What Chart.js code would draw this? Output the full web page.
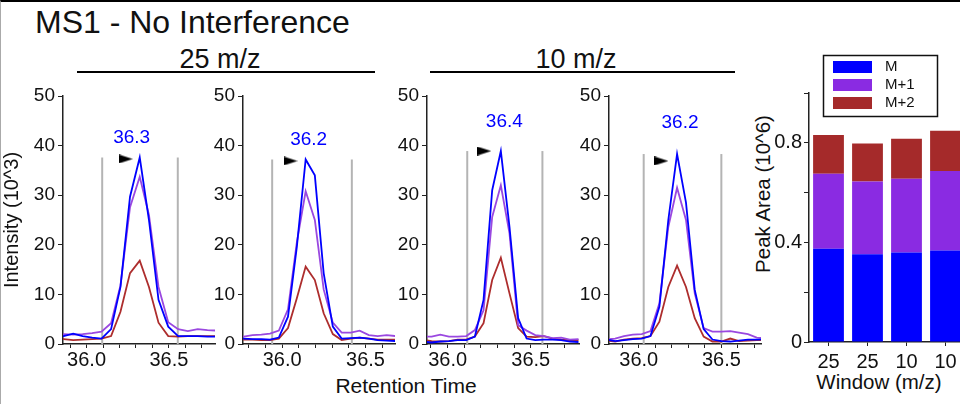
<!DOCTYPE html>
<html>
<head>
<meta charset="utf-8">
<script src="https://cdn.jsdelivr.net/npm/chart.js@4.4.1/dist/chart.umd.min.js"></script>
<style>
body { margin: 0; background: #fff; font-family: "Liberation Sans", Arial, sans-serif; }
#page { position: relative; width: 960px; height: 404px; overflow: hidden; background: #fff; }
#frame { position: absolute; left: 0; top: 0; width: 960px; height: 404px; box-sizing: border-box; border-top: 2px solid #000; border-left: 1px solid #aaa; }
.txt { position: absolute; line-height: 1; white-space: nowrap; color: #111; }
.rule { position: absolute; height: 2px; background: #000; }
canvas { position: absolute; }
</style>
</head>
<body>
<div id="page">
  <div id="frame"></div>
  <div class="txt" style="left:35px;top:6px;font-size:32px">MS1 - No Interference</div>
  <div class="txt" style="left:120px;top:46px;width:200px;text-align:center;font-size:27px">25 m/z</div>
  <div class="rule" style="left:77px;top:71px;width:298px"></div>
  <div class="txt" style="left:476px;top:46px;width:200px;text-align:center;font-size:27px">10 m/z</div>
  <div class="rule" style="left:430px;top:71px;width:305px"></div>
  <div class="txt" style="left:306px;top:375px;width:200px;text-align:center;font-size:21px">Retention Time</div>
  <div class="txt" style="left:779px;top:372px;width:200px;text-align:center;font-size:20.5px">Window (m/z)</div>
  <div class="txt" style="left:763px;top:194px;font-size:20.5px;transform:translate(-50%,-50%) rotate(-90deg)">Peak Area (10^6)</div>
</div>
<script>
// chromatograms, one per window / replicate
const rt1 = [35.80, 35.861, 35.919, 35.976, 36.034, 36.091, 36.149, 36.206, 36.264, 36.323, 36.379, 36.437, 36.496, 36.556, 36.615, 36.675, 36.734, 36.794];
const m_1 = [1.6, 1.6, 2.1, 1.6, 1.3, 1.1, 3.0, 11.5, 29.7, 37.6, 25.0, 8.9, 3.5, 1.6, 1.6, 1.6, 1.5, 1.5];
const mp1_1 = [2.0, 2.0, 1.9, 2.0, 2.2, 2.5, 4.2, 11.8, 27.6, 33.7, 26.0, 11.5, 4.4, 3.0, 2.6, 3.0, 2.8, 2.7];
const mp2_1 = [1.1, 1.0, 0.8, 0.9, 1.0, 1.1, 1.6, 6.5, 14.3, 16.8, 11.5, 4.3, 1.6, 1.5, 1.6, 1.6, 1.6, 1.6];

const rt2 = [35.716, 35.769, 35.822, 35.875, 35.927, 35.980, 36.035, 36.088, 36.141, 36.196, 36.249, 36.304, 36.357, 36.412, 36.465, 36.520, 36.573, 36.627, 36.680];
const m_2 = [1.1, 1.1, 1.0, 1.0, 0.9, 1.3, 5.5, 19.6, 37.2, 34.0, 14.3, 3.5, 1.1, 1.2, 1.3, 1.1, 0.8, 0.7, 0.6];
const mp1_2 = [1.5, 1.5, 1.8, 1.9, 2.1, 2.7, 7.0, 20.5, 30.8, 25.0, 11.0, 4.3, 2.3, 2.3, 2.7, 1.8, 1.6, 1.8, 1.6];
const mp2_2 = [0.9, 0.9, 0.9, 0.8, 0.8, 1.1, 3.2, 9.2, 15.6, 12.9, 6.2, 2.0, 0.8, 1.1, 1.3, 1.1, 0.9, 0.9, 0.9];

const rt3 = [35.852, 35.904, 35.956, 36.008, 36.060, 36.112, 36.164, 36.216, 36.268, 36.320, 36.372, 36.424, 36.475, 36.527, 36.579, 36.631, 36.683, 36.735, 36.787];
const m_3 = [0.5, 0.3, 0.5, 0.6, 0.8, 0.8, 1.5, 8.9, 31.0, 38.9, 23.6, 5.2, 1.1, 0.8, 0.9, 0.9, 0.8, 0.5, 0.4];
const mp1_3 = [1.5, 1.5, 1.9, 1.5, 1.5, 1.6, 2.8, 6.8, 25.6, 32.0, 22.3, 3.8, 2.7, 1.8, 1.6, 1.2, 1.3, 0.9, 1.0];
const mp2_3 = [0.8, 0.6, 0.5, 0.6, 0.9, 0.9, 1.5, 4.2, 12.9, 17.4, 10.2, 3.2, 1.5, 1.4, 1.6, 1.1, 0.9, 0.8, 0.8];

const rt4 = [35.804, 35.857, 35.911, 35.964, 36.018, 36.071, 36.125, 36.179, 36.232, 36.286, 36.339, 36.393, 36.446, 36.500, 36.554, 36.607, 36.661, 36.714, 36.768];
const m_4 = [0.9, 0.6, 0.8, 1.0, 1.1, 1.6, 7.5, 25.0, 38.3, 28.5, 10.9, 3.0, 0.9, 0.6, 0.5, 0.7, 0.9, 0.9, 1.0];
const mp1_4 = [0.9, 1.1, 1.6, 1.9, 2.0, 2.6, 8.2, 23.6, 31.5, 25.0, 10.2, 3.2, 2.5, 2.5, 2.6, 2.3, 2.0, 1.3, 1.2];
const mp2_4 = [0.7, 0.5, 0.9, 1.1, 1.2, 1.6, 4.5, 11.5, 15.8, 11.5, 5.2, 1.5, 0.5, 0.5, 1.1, 0.6, 0.7, 0.8, 0.8];

// x-axis range, integration boundaries, apex marker and label per panel
const xRanges = [[35.857, 36.78], [35.765, 36.677], [35.876, 36.79], [35.82, 36.74]];
const bounds = [[36.095, 36.554], [35.94, 36.418], [36.118, 36.57], [36.03, 36.5]];
const markers = [[36.238, 37.3], [36.05, 36.9], [36.22, 38.9], [36.137, 36.9]];
const apexText = ['36.3', '36.2', '36.4', '36.2'];
const apexPos = [[36.274, 41.5], [36.159, 41.1], [36.341, 44.8], [36.25, 44.6]];

// peak areas (10^6)
const windows = ['25', '25', '10', '10'];
const areaM = [0.374, 0.352, 0.359, 0.367];
const areaM1 = [0.302, 0.293, 0.297, 0.320];
const areaM2 = [0.155, 0.152, 0.160, 0.161];

const FONT = '"Liberation Sans", Arial, sans-serif';
Chart.defaults.font.family = FONT;
Chart.defaults.color = '#111';

const page = document.getElementById('page');

// black arrow head pointing at the apex
const arrow = document.createElement('canvas');
arrow.width = 14; arrow.height = 9;
(function () {
    const c = arrow.getContext('2d');
    c.fillStyle = '#000';
    c.beginPath();
    c.moveTo(0, 0); c.lineTo(14, 4.5); c.lineTo(0, 9);
    c.closePath();
    c.fill();
})();

const apexLabel = {
    id: 'apexLabel',
    afterDatasetsDraw(chart, args, opts) {
        const ctx = chart.ctx;
        ctx.save();
        ctx.fillStyle = '#0000ff';
        ctx.font = '19px ' + FONT;
        ctx.textAlign = 'center';
        ctx.textBaseline = 'middle';
        ctx.fillText(opts.text, chart.scales.x.getPixelForValue(opts.x), chart.scales.y.getPixelForValue(opts.y));
        ctx.restore();
    }
};

function toPoints(xs, ys) {
    return xs.map((x, k) => ({ x: x, y: ys[k] }));
}

function makePanel(i, axisX, times, m, m1, m2, showTitle) {
    const canvas = document.createElement('canvas');
    canvas.width = 63 + 155 + 5;
    canvas.height = 16 + 248 + 40;
    canvas.style.left = (axisX - 63) + 'px';
    canvas.style.top = '80px';
    page.appendChild(canvas);

    const top = Math.max(...m);
    const grey = { borderColor: '#b4b4b4', borderWidth: 2, pointRadius: 0 };

    return new Chart(canvas.getContext('2d'), {
        type: 'line',
        data: {
            datasets: [
                { data: [{ x: markers[i][0], y: markers[i][1] }], showLine: false, pointStyle: arrow, pointRadius: 7 },
                { label: 'M', data: toPoints(times, m), borderColor: '#0000ff', borderWidth: 1.8, pointRadius: 0 },
                { label: 'M+1', data: toPoints(times, m1), borderColor: '#9a48e0', borderWidth: 1.8, pointRadius: 0 },
                { label: 'M+2', data: toPoints(times, m2), borderColor: '#ad2d2d', borderWidth: 1.8, pointRadius: 0 },
                Object.assign({ data: [{ x: bounds[i][0], y: 0 }, { x: bounds[i][0], y: top }] }, grey),
                Object.assign({ data: [{ x: bounds[i][1], y: 0 }, { x: bounds[i][1], y: top }] }, grey)
            ]
        },
        plugins: [apexLabel],
        options: {
            responsive: false,
            animation: false,
            layout: { padding: { top: 16, right: 5, left: 0, bottom: 0 } },
            plugins: {
                legend: { display: false },
                tooltip: { enabled: false },
                apexLabel: { text: apexText[i], x: apexPos[i][0], y: apexPos[i][1] }
            },
            scales: {
                x: {
                    type: 'linear',
                    min: xRanges[i][0],
                    max: xRanges[i][1],
                    afterFit: s => { s.height = 40; },
                    border: { color: '#222', width: 1.5 },
                    grid: { drawOnChartArea: false, tickLength: 4, color: '#222' },
                    ticks: {
                        stepSize: 0.1,
                        includeBounds: false,
                        autoSkip: false,
                        maxRotation: 0,
                        padding: 0,
                        font: { size: 20 },
                        callback: v => Math.abs(v - 36) < 1e-6 ? '36.0' : (Math.abs(v - 36.5) < 1e-6 ? '36.5' : '')
                    }
                },
                y: {
                    min: 0,
                    max: 50,
                    afterFit: s => { s.width = 63; },
                    border: { color: '#222', width: 1.5 },
                    grid: { drawOnChartArea: false, tickLength: 5, color: '#222' },
                    ticks: { stepSize: 10, padding: 3, font: { size: 19 } },
                    title: { display: showTitle, text: 'Intensity (10^3)', font: { size: 20 }, padding: 0 }
                }
            }
        }
    });
}

makePanel(0, 63, rt1, m_1, mp1_1, mp2_1, true);
makePanel(1, 243, rt2, m_2, mp1_2, mp2_2, false);
makePanel(2, 427, rt3, m_3, mp1_3, mp2_3, false);
makePanel(3, 609, rt4, m_4, mp1_4, mp2_4, false);

// legend with a frame, drawn from the datasets
const boxLegend = {
    id: 'boxLegend',
    afterDraw(chart) {
        const ctx = chart.ctx;
        ctx.save();
        ctx.strokeStyle = '#111';
        ctx.lineWidth = 1.5;
        ctx.strokeRect(74.5, 15.5, 114, 61);
        ctx.font = '15px ' + FONT;
        ctx.textBaseline = 'middle';
        chart.data.datasets.forEach((ds, k) => {
            const y = 21 + k * 18;
            ctx.fillStyle = ds.backgroundColor;
            ctx.fillRect(84, y, 39, 12);
            ctx.fillStyle = '#111';
            ctx.fillText(ds.label, 136, y + 6);
        });
        ctx.restore();
    }
};

function makeBars() {
    const canvas = document.createElement('canvas');
    canvas.width = 60 + 156;
    canvas.height = 53 + 249 + 30;
    canvas.style.left = '749px';
    canvas.style.top = '40px';
    page.appendChild(canvas);

    return new Chart(canvas.getContext('2d'), {
        type: 'bar',
        data: {
            labels: windows,
            datasets: [
                { label: 'M', data: areaM, backgroundColor: '#0000ff' },
                { label: 'M+1', data: areaM1, backgroundColor: '#8a2be2' },
                { label: 'M+2', data: areaM2, backgroundColor: '#a52a2a' }
            ]
        },
        plugins: [boxLegend],
        options: {
            responsive: false,
            animation: false,
            layout: { padding: { top: 53, right: 0, left: 0, bottom: 0 } },
            datasets: { bar: { categoryPercentage: 1, barPercentage: 0.79 } },
            plugins: { legend: { display: false }, tooltip: { enabled: false } },
            scales: {
                x: {
                    stacked: true,
                    afterFit: s => { s.height = 30; },
                    border: { color: '#222', width: 1.5 },
                    grid: { drawOnChartArea: false, offset: false, tickLength: 4, color: '#222' },
                    ticks: { padding: 4, maxRotation: 0, font: { size: 20 } }
                },
                y: {
                    stacked: true,
                    min: 0,
                    max: 1,
                    afterFit: s => { s.width = 60; },
                    border: { color: '#222', width: 1.5 },
                    grid: { drawOnChartArea: false, tickLength: 5, color: '#222' },
                    ticks: {
                        stepSize: 0.2,
                        padding: 2,
                        font: { size: 20 },
                        callback: v => {
                            const k = Math.round(v * 10);
                            if (k === 0) return '0';
                            return k % 4 === 0 ? (k / 10).toFixed(1) : '';
                        }
                    }
                }
            }
        }
    });
}

makeBars();
</script>
</body>
</html>
